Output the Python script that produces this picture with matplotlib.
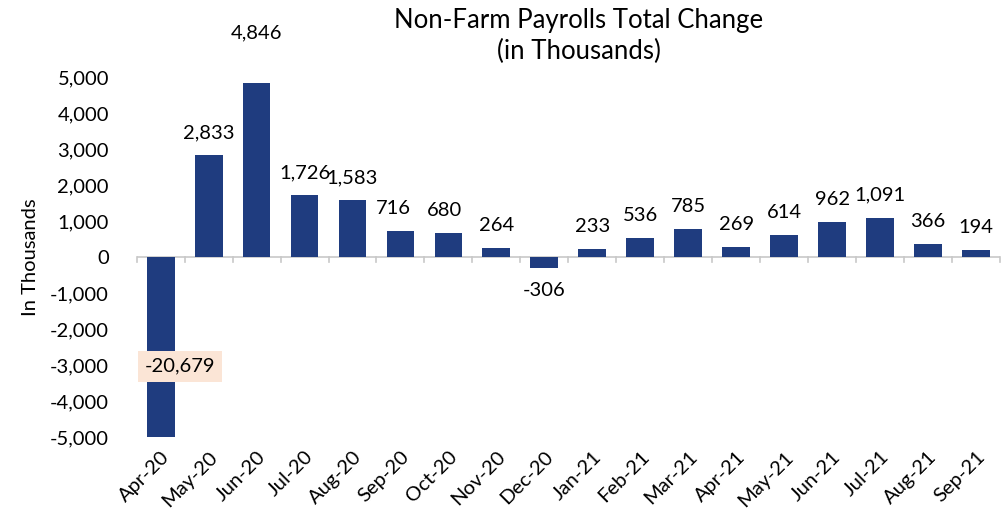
import matplotlib.pyplot as plt
import numpy as np

plt.rcParams['font.family'] = ['Lato', 'DejaVu Sans']

months = ['Apr-20', 'May-20', 'Jun-20', 'Jul-20', 'Aug-20', 'Sep-20', 'Oct-20', 'Nov-20',
          'Dec-20', 'Jan-21', 'Feb-21', 'Mar-21', 'Apr-21', 'May-21', 'Jun-21', 'Jul-21',
          'Aug-21', 'Sep-21']
change = [-20679, 2833, 4846, 1726, 1583, 716, 680, 264, -306, 233, 536, 785, 269, 614,
          962, 1091, 366, 194]
y_ticks = [-5000, -4000, -3000, -2000, -1000, 0, 1000, 2000, 3000, 4000, 5000]

bar_color = '#1F3C7F'
fs = 14.5

fig = plt.figure(figsize=(10.05, 5.25), dpi=100)
ax = fig.add_axes([0.136, 0.1676, 0.859, 0.6857])

x = np.arange(len(months))
bars = ax.bar(x, change, width=0.58, color=bar_color, zorder=2)

ax.set_xlim(-0.5, len(months) - 0.5)
ax.set_ylim(-5000, 5000)
ax.set_yticks(y_ticks)
ax.set_yticklabels([f'{v:,}' for v in y_ticks], fontsize=fs)
ax.tick_params(axis='y', length=0, pad=20)

ax.set_xticks(x)
ax.set_xticklabels(months, rotation=45, ha='right', rotation_mode='anchor', fontsize=fs)
ax.tick_params(axis='x', length=0, pad=8)
for s in ax.spines.values():
    s.set_visible(False)

# zero axis line with category separators
ax.axhline(0, color='#C8C8C8', lw=1.2, zorder=1)
for b in np.arange(-0.5, len(months) + 0.5, 1):
    ax.plot([b, b], [0, -140], color='#C8C8C8', lw=1.2, zorder=1, clip_on=False)

# value labels
for i, v in enumerate(change):
    txt = f'{v:,}'
    if i == 0:
        ax.text(i + 0.4, -3030, txt, ha='center', va='center', fontsize=fs,
                bbox=dict(boxstyle='square,pad=0.35', fc='#FBE5D6', ec='none'), zorder=3)
    elif v < 0:
        ax.annotate(txt, (i, v), xytext=(0, -10), textcoords='offset points',
                    ha='center', va='top', fontsize=fs)
    else:
        dy = 30 if months[i] == 'Jun-20' else 10
        dx = {'Sep-20': -5, 'Oct-20': -3}.get(months[i], 0)
        ax.annotate(txt, (i, v), xytext=(dx, dy), textcoords='offset points',
                    ha='center', va='bottom', fontsize=fs, annotation_clip=False)

ax.set_ylabel('In Thousands', fontsize=fs, labelpad=8)
fig.text(0.576, 0.985, 'Non-Farm Payrolls Total Change\n(in Thousands)', ha='center',
         va='top', fontsize=18.5, linespacing=1.3)

fig.savefig('out.png', dpi=100, facecolor='white')
